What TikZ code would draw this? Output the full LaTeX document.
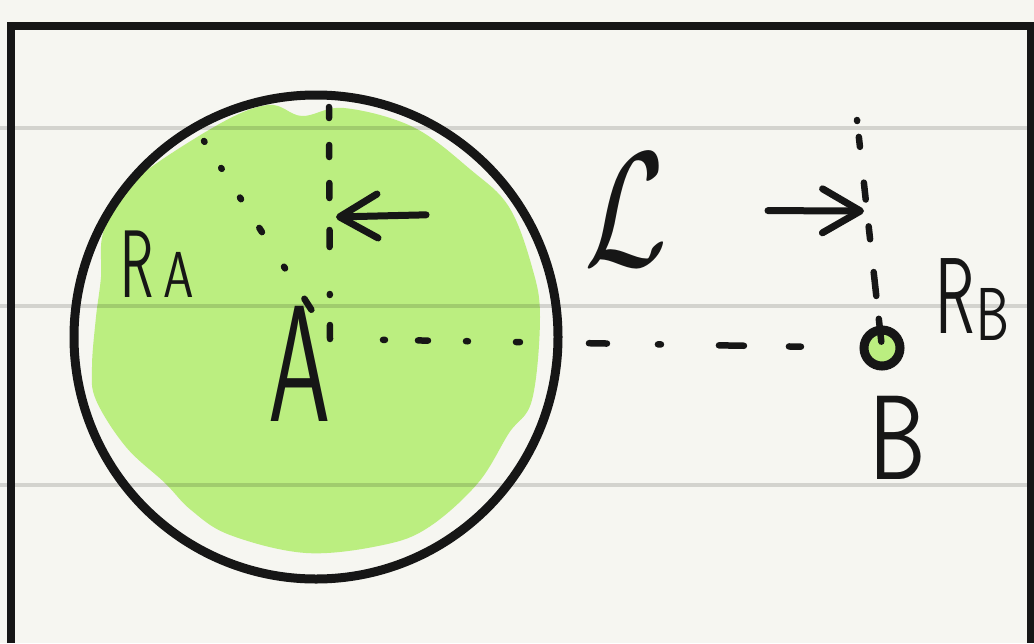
\RequirePackage{fix-cm}
\documentclass[tikz,border=0pt]{standalone}
\usepackage{fontspec}
\usepackage{tikz}
\usetikzlibrary{arrows.meta}
\definecolor{Paper}{HTML}{F6F6F1}
\definecolor{Ink}{HTML}{161616}
\definecolor{Lime}{HTML}{BBEE80}
\newcommand{\handsz}[1]{\fontsize{#1}{#1}\selectfont\sffamily}

\begin{document}
\begin{tikzpicture}[x={(1pt,0)},y={(0,-1pt)},
    ruling/.style={line width=4pt,draw=black,opacity=.14},
    frm/.style={line width=8pt,draw=Ink},
    big/.style={circle,draw=Ink,line width=9pt,minimum size=484pt,inner sep=0pt},
    dotB/.style={circle,draw=Ink,fill=Lime,line width=9pt,minimum size=36pt,inner sep=0pt},
    dsh/.style={draw=Ink,line width=6.5pt,line cap=round},
    arr/.style={draw=Ink,line width=7pt,line cap=round,-{Straight Barb[length=38pt,width=44pt,round]}},
    lbl/.style={inner sep=0pt,text=Ink}]
    \useasboundingbox[fill=Paper] (0,0) rectangle (1034,643);
    % green wash inside A
    \fill[Lime] plot[smooth cycle,tension=.6] coordinates {(268,105) (302,116) (344,108) (413,127) (471,170) (509,207) (532,267) (540,317) (532,400) (509,433) (478,483) (429,527) (383,545) (306,553) (230,535) (191,510) (165,483) (126,447) (96,400) (92,367) (96,317) (101,277) (103,233) (126,187) (214,127)};
    \foreach \y in {128,306,485}
      \draw[ruling] (0,\y) -- (1031,\y);
    \draw[frm] (11,643) |- (1031,26) -- (1031,643);
    \node[big] (Acirc) at (316,337) {};
    \node[dotB] (Bdot) at (882,348) {};
    \coordinate (ctrA) at (330,339);
    \coordinate (topA) at (329,107);
    \coordinate (rimA) at (204,141);
    \coordinate (topB) at (857,120);
    % radii and distance
    \draw[dsh,dash pattern=on 11pt off 27pt on 12pt off 26pt on 15pt off 32pt on 17pt off 47pt on 1pt off 30pt on 15pt off 40pt] (topA) -- (ctrA);
    \draw[dsh,dash pattern=on 1pt off 31pt on 1pt off 34pt on 2pt off 34pt on 5pt off 41pt on 2pt off 36pt on 13pt off 100pt] (rimA) -- (ctrA);
    \draw[dsh,shorten <=53pt,shorten >=80pt,dash pattern=on 2pt off 33pt on 10pt off 38pt on 2pt off 48pt on 4pt off 69pt on 18pt off 51pt on 3pt off 58pt on 25pt off 45pt on 12pt off 50pt] (ctrA) -- (Bdot.center);
    \draw[dsh,dash pattern=on 1pt off 16pt on 10pt off 36pt on 17pt off 27pt on 13pt off 33pt on 24pt off 23pt on 23pt off 50pt] (topB) -- (Bdot.center);
    \node[lbl,font=\handsz{166}] (Albl) at (300,364) {\scalebox{0.6}[1]{A}};
    \node[lbl,font=\handsz{120}] (Blbl) at (898,438) {\scalebox{0.75}[1]{B}};
    \node[lbl,font=\handsz{163}] (Lbl) at (626,210) {\scalebox{0.74}[1]{$\mathcal{L}$}};
    \node[lbl,anchor=base west,font=\handsz{96}] (RA) at (120,297) {\scalebox{0.57}[1]{R}\hspace{10pt}{\fontsize{65}{65}\selectfont\scalebox{0.75}[1]{A}}};
    \node[lbl,anchor=base west,font=\handsz{108}] (RB) at (935,333) {\scalebox{0.6}[1]{R}\hspace{2pt}\raisebox{-7pt}{\fontsize{75}{75}\selectfont\scalebox{0.7}[1]{B}}};
    \coordinate (tipL) at (336,217);
    \coordinate (tipR) at (864,211);
    \draw[arr,shorten <=200pt] (Lbl.center) -- (tipL);
    \draw[arr,shorten <=142pt] (Lbl.center) -- (tipR);
  \end{tikzpicture}
\end{document}
